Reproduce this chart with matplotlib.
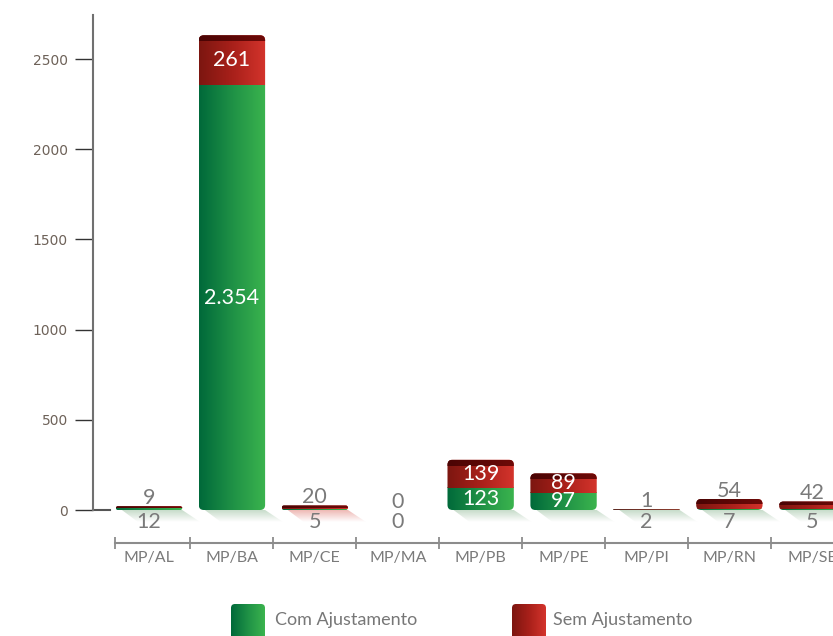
import numpy as np
import matplotlib
matplotlib.use('Agg')
import matplotlib.pyplot as plt
from matplotlib.colors import LinearSegmentedColormap
from matplotlib.patches import FancyBboxPatch, Polygon

categorias = ['MP/AL', 'MP/BA', 'MP/CE', 'MP/MA', 'MP/PB', 'MP/PE', 'MP/PI', 'MP/RN', 'MP/SE']
com_ajuste = [12, 2354, 5, 0, 123, 97, 2, 7, 5]
sem_ajuste = [9, 261, 20, 0, 139, 89, 1, 54, 42]
rotulos_com = ['12', '2.354', '5', '0', '123', '97', '2', '7', '5']
rotulos_sem = ['9', '261', '20', '0', '139', '89', '1', '54', '42']
yticks = [0, 500, 1000, 1500, 2000, 2500]
series = ['Com Ajustamento', 'Sem Ajustamento']

W, H = 833, 636
fig = plt.figure(figsize=(W / 100, H / 100), dpi=100)
ax = fig.add_axes([93 / W, (H - 510) / H, 1 - 93 / W, 495 / H])
ax.patch.set_alpha(0)

XMIN, XMAX = -0.676, 8.25
YMAX = 2744
px_x = (XMAX - XMIN) / (W - 93)   # unidades por pixel
px_y = YMAX / 495.0

verde = LinearSegmentedColormap.from_list('verde', ['#00693a', '#1f9146', '#3bb44e'])
vermelho = LinearSegmentedColormap.from_list('vermelho', ['#7c1610', '#a8201a', '#d4342c'])
escuro = LinearSegmentedColormap.from_list('escuro', ['#4a0404', '#6e0a08'])
sombra_v = LinearSegmentedColormap.from_list('sv', [(0.6, 0.75, 0.62, 0.0), (0.6, 0.75, 0.62, 0.55)])
sombra_r = LinearSegmentedColormap.from_list('sr', [(0.88, 0.5, 0.47, 0.0), (0.88, 0.5, 0.47, 0.55)])

grad = np.linspace(0, 1, 256).reshape(1, -1)
vgrad = np.linspace(0, 1, 64).reshape(-1, 1)


def pinta(eixo, x0, x1, y0, y1, cmap, clip, g=grad, z=2):
    im = eixo.imshow(g, cmap=cmap, extent=[x0, x1, y0, y1], aspect='auto',
                     origin='lower', clip_path=clip, interpolation='bilinear', zorder=z)
    im.set_clip_box(fig.bbox)
    return im


largura = 0.8
for i, (g, r) in enumerate(zip(com_ajuste, sem_ajuste)):
    topo = g + r
    x0, x1 = i - largura / 2, i + largura / 2
    if topo > 0:
        # face superior "3D" so nas barras maiores
        faixa_sup = 3 * px_y if topo / px_y > 15 else 0
        h_px = (topo + faixa_sup) / px_y
        rr = min(5, h_px / 2) * px_x
        caixa = FancyBboxPatch((x0, 0), largura, topo + faixa_sup,
                               boxstyle='round,pad=0,rounding_size=%f' % rr,
                               mutation_aspect=px_y / px_x, transform=ax.transData)
        # sombra
        cor_s = sombra_v if (g >= r or r > 40) else sombra_r
        sh = Polygon([(x0 + 6 * px_x, 0), (x1, 0), (x1 + 18 * px_x, -12 * px_y),
                      (x0 + 22 * px_x, -12 * px_y)], closed=True, transform=ax.transData)
        pinta(ax, x0, x1 + 20 * px_x, -12 * px_y, 0, cor_s, sh, g=vgrad, z=1)
        if g > 0:
            pinta(ax, x0, x1, 0, g, verde, caixa)
        if r > 0:
            pinta(ax, x0, x1, g, topo + faixa_sup, vermelho, caixa)
            faixa = min(6 * px_y, 0.45 * (topo + faixa_sup))
            pinta(ax, x0, x1, topo + faixa_sup - faixa, topo + faixa_sup, escuro, caixa, z=3)

    fonte = dict(family='Lato', fontsize=15.5, ha='center', va='center', zorder=5)
    if g >= 80:
        ax.text(i, g / 2, rotulos_com[i], color='white', **fonte)
    else:
        ax.annotate(rotulos_com[i], (i, 0), xytext=(0, -9), textcoords='offset points',
                    color='#7a7a7a', annotation_clip=False, **fonte)
    if r >= 80:
        ax.text(i, g + r / 2 + 1.5 * px_y, rotulos_sem[i], color='white', **fonte)
    else:
        ax.annotate(rotulos_sem[i], (i, topo), xytext=(0, 6), textcoords='offset points',
                    color='#7a7a7a', annotation_clip=False, **fonte)

ax.set_xlim(XMIN, XMAX)
ax.set_ylim(0, YMAX)

# eixo y
for lado in ['top', 'right']:
    ax.spines[lado].set_visible(False)
ax.spines['left'].set_color('#707070')
ax.spines['left'].set_linewidth(1.5)
ax.set_yticks(yticks)
ax.tick_params(axis='y', length=13, width=1, color='#333333', pad=5,
               labelsize=10, labelcolor='#6e6259')
ax.plot([XMIN, XMIN + 17 * px_x], [0, 0], color='#555555', lw=1.5, clip_on=False)

# eixo x das categorias
pos = np.arange(len(categorias))
ax.spines['bottom'].set_position(('outward', 33 * 0.72))
ax.spines['bottom'].set_color('#8c8c8c')
ax.spines['bottom'].set_linewidth(1.5)
ax.spines['bottom'].set_bounds(-0.41, 9)
ax.set_xticks([-0.41] + list(pos[:-1] + 0.5))
ax.set_xticklabels([])
ax.set_xticks(pos, minor=True)
ax.set_xticklabels(categorias, minor=True, family='Lato', fontsize=11.5, color='#7a7a7a')
ax.tick_params(axis='x', which='major', direction='inout', length=9, width=1.3, color='#8c8c8c')
ax.tick_params(axis='x', which='minor', length=0, pad=6)

# legenda
lax = fig.add_axes([0, 0, 1, 1])
lax.set_xlim(0, W)
lax.set_ylim(H, 0)
lax.axis('off')
for (lx, tx), nome, cmap in zip([(231, 275), (512, 553)], series, [verde, vermelho]):
    q = FancyBboxPatch((lx, 604), 34, 40, boxstyle='round,pad=0,rounding_size=4',
                       transform=lax.transData)
    lax.imshow(grad, cmap=cmap, extent=[lx, lx + 34, 644, 604], aspect='auto',
               clip_path=q, interpolation='bilinear')
    lax.text(tx, 620, nome, family='Lato', fontsize=13, color='#777777', va='center', ha='left')
lax.set_xlim(0, W)
lax.set_ylim(H, 0)

fig.savefig('out.png', dpi=100)
